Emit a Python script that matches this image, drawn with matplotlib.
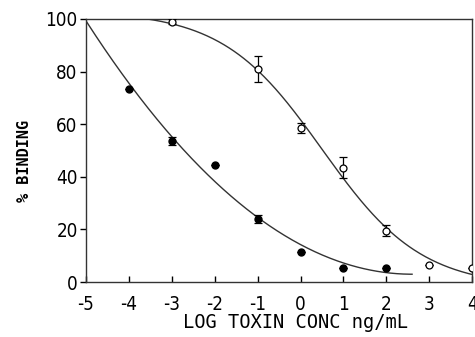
import numpy as np
import matplotlib
matplotlib.use("Agg")
import matplotlib.pyplot as plt

# Filled circles (series 1)
x_filled = [-4, -3, -2, -1, 0, 1, 2]
y_filled = [73.5, 53.5, 44.5, 24.0, 11.5, 5.5, 5.5]
err_filled = [0, 1.5, 0, 1.5, 0, 0, 0]

# Open circles (series 2)
x_open = [-3, -1, 0, 1, 2, 3, 4]
y_open = [99.0, 81.0, 58.5, 43.5, 19.5, 6.5, 5.5]
err_open = [1.0, 5.0, 2.0, 4.0, 2.0, 0, 0]

# normalisation point (100 % binding without toxin)
x_ctrl = -5
y_ctrl = 100

xticks = [-5, -4, -3, -2, -1, 0, 1, 2, 3, 4]
yticks = [0, 20, 40, 60, 80, 100]


def fit_4pl(x, y):
    """Brute-force least-squares four-parameter logistic fit."""
    x = np.asarray(x, float)
    y = np.asarray(y, float)
    top = np.linspace(95, 120, 26)[:, None, None, None]
    bot = np.linspace(-60, 10, 36)[None, :, None, None]
    x0 = np.linspace(-4, 4, 81)[None, None, :, None]
    h = np.linspace(0.05, 1.5, 59)[None, None, None, :]
    sse = 0
    for xi, yi in zip(x, y):
        pred = bot + (top - bot) / (1 + 10 ** (h * (xi - x0)))
        sse = sse + (pred - yi) ** 2
    i = np.unravel_index(np.argmin(sse), sse.shape)
    return (top.ravel()[i[0]], bot.ravel()[i[1]], x0.ravel()[i[2]], h.ravel()[i[3]])


def f4pl(x, p):
    top, bot, x0, h = p
    return bot + (top - bot) / (1 + 10 ** (h * (x - x0)))


plt.rcParams['font.family'] = ['DejaVu Sans Mono']

fig = plt.figure(figsize=(4.75, 3.37), dpi=100)
ax = fig.add_axes([0.181, 0.163, 0.813, 0.781])

# quadratic fit for the filled series (including the 100 % control)
cf = np.polyfit([x_ctrl] + x_filled, [y_ctrl] + y_filled, 2)
x_end = -cf[1] / (2 * cf[0])
xs_f = np.linspace(-5, min(x_end, 4), 300)
ax.plot(xs_f, np.polyval(cf, xs_f), color='#333333', lw=1.0)

# logistic fit for the open series
po = fit_4pl(x_open, y_open)
xs = np.linspace(-5, 4, 400)
ax.plot(xs, f4pl(xs, po), color='#333333', lw=1.0)

ax.errorbar(x_filled, y_filled, yerr=err_filled, fmt='o', ms=5, color='black',
            mfc='black', mec='black', ecolor='black', elinewidth=0.9, capsize=3, capthick=0.9)
ax.errorbar(x_open, y_open, yerr=err_open, fmt='o', ms=5, color='black',
            mfc='white', mec='black', mew=0.9, ecolor='black', elinewidth=0.9, capsize=3,
            capthick=0.9, zorder=5)

ax.set_xlim(-5, 4)
ax.set_ylim(0, 100)
ax.set_xticks(xticks)
ax.set_yticks(yticks)
ax.set_xticklabels([str(t) for t in xticks], fontsize=13.5, family='DejaVu Sans',
                   fontstretch='condensed')
ax.set_yticklabels([str(t) for t in yticks], fontsize=13.5, family='DejaVu Sans',
                   fontstretch='condensed')
ax.tick_params(axis='x', direction='in', length=4, width=1, pad=9)
ax.tick_params(axis='y', direction='out', length=4, width=1, pad=2)
for s in ax.spines.values():
    s.set_linewidth(1.0)
    s.set_color('#333333')

ax.set_xlabel('LOG TOXIN CONC ng/mL', fontsize=13.5)
ax.xaxis.set_label_coords(0.543, -0.118)
ax.set_ylabel('% BINDING', fontsize=11, fontweight='bold')
ax.yaxis.set_label_coords(-0.140, 0.46)

fig.savefig('out.png', dpi=100)
